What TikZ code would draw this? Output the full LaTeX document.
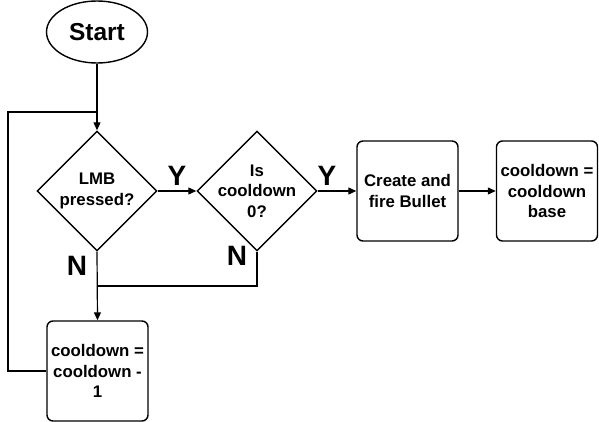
\documentclass[tikz,border=0pt]{standalone}
\usepackage{fontspec}
\setmainfont{Liberation Sans}
\usetikzlibrary{shapes.geometric,arrows.meta}
\tikzset{
  shapeline/.style={draw=black, line width=1.4pt},
  procbox/.style={shapeline, rectangle, rounded corners=6pt, minimum width=101pt, minimum height=100pt, inner sep=0pt, align=center, font=\fontsize{16.8}{20.5}\selectfont\bfseries},
  decbox/.style={shapeline, diamond, minimum width=120pt, minimum height=120pt, inner sep=0pt, align=center, font=\fontsize{16.8}{20.5}\selectfont\bfseries},
  termbox/.style={shapeline, ellipse, minimum width=101pt, minimum height=62pt, inner sep=0pt, font=\fontsize{24.5}{28}\selectfont\bfseries},
  yn/.style={font=\fontsize{28}{30}\selectfont\bfseries, inner sep=0pt},
  conn/.style={draw=black, line width=1.2pt},
  arr/.style={conn, -{Triangle[length=8pt,width=7pt]}},
}
\begin{document}
\begin{tikzpicture}[x=1pt,y=-1pt]
\useasboundingbox (0,0) rectangle (599,422);
\node[termbox] (start) at (97,32) {Start};
\node[decbox] (d1) at (97,191) {LMB\\pressed?};
\node[decbox, label={[align=center, font=\fontsize{16.8}{20.5}\selectfont\bfseries]center:Is\\cooldown\\0?}] (d2) at (257,191) {};
\node[procbox] (create) at (407.5,191) {Create and\\fire Bullet};
\node[procbox] (base) at (547,191) {cooldown =\\cooldown\\base};
\node[procbox] (cd) at (97.5,371) {cooldown =\\cooldown -\\1};
\node[yn] (y1) at (177,176) {Y};
\node[yn] (y2) at (327,176) {Y};
\node[yn] (n1) at (77,266) {N};
\node[yn] (n2) at (237,256) {N};
\coordinate (k) at (97,112);
\coordinate (j) at (97,286);
\coordinate (lx) at (8,371);
\draw[arr] (start) -- (d1);
\draw[arr] (d1) -- (d2);
\draw[arr] (d2) -- (create);
\draw[arr] (create) -- (base);
\draw[arr] (d1.south) -- (cd.north);
\draw[conn] (d2.south) |- (j);
\draw[conn] (cd.west) -- (lx) |- (k);
\end{tikzpicture}
\end{document}
